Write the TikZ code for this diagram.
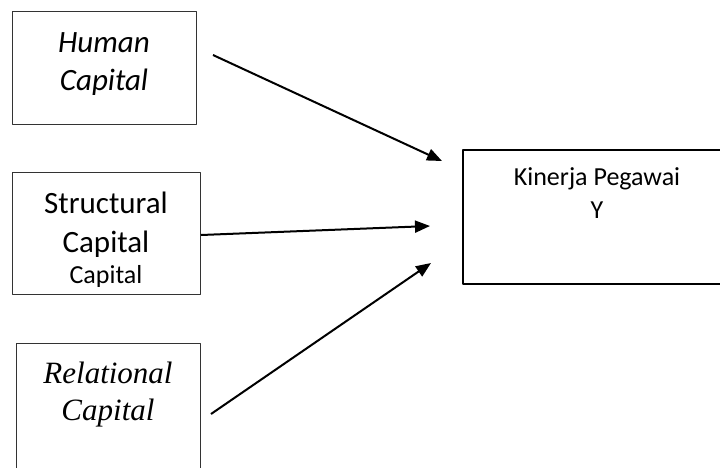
\documentclass[tikz,border=0pt]{standalone}
\usepackage{fontspec}
\setmainfont{Carlito}
\newfontfamily\serifit{Liberation Serif}
\usetikzlibrary{arrows.meta}
\begin{document}
\begin{tikzpicture}[x=1pt,y=-1pt,>={Triangle[length=15pt,width=12pt]},line join=round,font=\fontsize{31}{38}\selectfont]
	% Khung gambar
	\def\lebar{720}
	\def\tinggi{467}
	\useasboundingbox (0,0) rectangle (\lebar,\tinggi);
	\tikzset{kotak/.style={draw=black!80,line width=1pt,inner sep=0pt,anchor=north west},
		teks/.style={anchor=base,inner sep=0pt},
		besar/.style={font=\fontsize{31}{38}\selectfont},
		kecil/.style={font=\fontsize{26}{31}\selectfont},
		panah/.style={->,line width=2pt}}
	% Kotak variabel
	\node [kotak,minimum width=184pt,minimum height=113pt] (human) at (12,11) {};
	\node [kotak,minimum width=188pt,minimum height=122pt] (struct) at (12,172) {};
	\node [kotak,minimum width=184pt,minimum height=135pt] (relat) at (16,343) {};
	\node [kotak,draw=black,line width=1.6pt,minimum width=300pt,minimum height=134pt] (kinerja) at (462,149) {};
	% Teks
	\node [teks,font=\fontsize{31}{38}\selectfont\itshape] (humanA) at (104,52) {Human};
	\node [teks,font=\fontsize{31}{38}\selectfont\itshape] (humanB) at (104,90) {Capital};
	\node [teks,besar] (structA) at (106,213) {Structural};
	\node [teks,besar] (structB) at (106,252) {Capital};
	\begin{scope}
		\clip (12,172) rectangle (200,286);
		\node [teks,kecil] (structC) at (106,283) {Capital};
	\end{scope}
	\node [teks,font=\fontsize{31}{38}\selectfont\serifit\itshape] (relatA) at (108,383) {Relational};
	\node [teks,font=\fontsize{31}{38}\selectfont\serifit\itshape] (relatB) at (108,420) {Capital};
	\node [teks,kecil] (kinerjaA) at (597,185) {Kinerja Pegawai};
	\node [teks,kecil] (kinerjaB) at (597,218) {Y};
	% Panah
	\coordinate (h1) at (213,55);  \coordinate (h2) at (442,161);
	\coordinate (s1) at (201,235); \coordinate (s2) at (430,226);
	\coordinate (r1) at (211,414); \coordinate (r2) at (431,263);
	\draw [panah] (h1)--(h2);
	\draw [panah] (s1)--(s2);
	\draw [panah] (r1)--(r2);
\end{tikzpicture}
\end{document}
